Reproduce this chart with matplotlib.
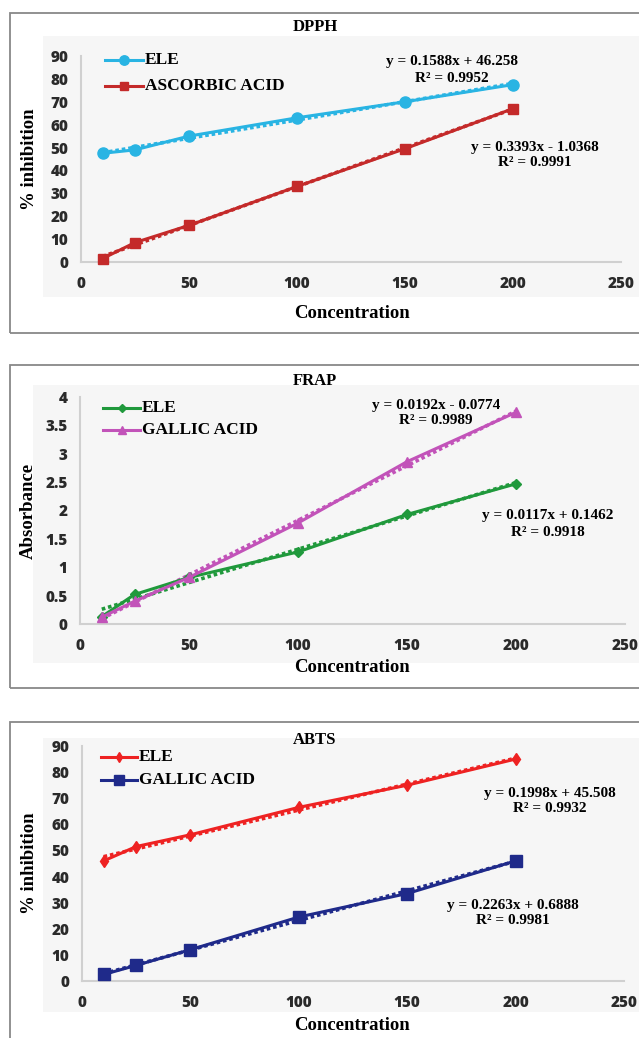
import numpy as np
import matplotlib
matplotlib.use("Agg")
import matplotlib.pyplot as plt
from matplotlib.patches import Rectangle
from matplotlib.lines import Line2D

conc = [10, 25, 50, 100, 150, 200]
x_ticks = [0, 50, 100, 150, 200, 250]

dpph_ele = [47.5, 49.0, 55.0, 63.0, 70.0, 77.5]
dpph_asc = [1.5, 8.5, 16.0, 33.0, 49.5, 67.0]
frap_ele = [0.13, 0.52, 0.82, 1.27, 1.93, 2.47]
frap_gal = [0.12, 0.40, 0.82, 1.78, 2.86, 3.73]
abts_ele = [46.0, 51.5, 56.0, 66.5, 75.0, 85.0]
abts_gal = [2.5, 6.0, 12.0, 24.5, 33.5, 46.0]

W, H = 639, 1038
fig = plt.figure(figsize=(W / 100, H / 100), dpi=100)

SERIF = ["Liberation Serif", "DejaVu Serif"]
SANS = ["Open Sans", "DejaVu Sans"]


def fx(px):
    return px / W


def fy(py):
    return 1 - py / H


def frame(top, bottom, gx, gtop, gbottom):
    fig.patches.append(Rectangle((fx(gx), fy(gbottom)), 1 - fx(gx), fy(gtop) - fy(gbottom),
                                 transform=fig.transFigure, facecolor="#f6f6f6",
                                 edgecolor="none", zorder=-3))
    fig.patches.append(Rectangle((fx(10), fy(bottom)), 1.2, fy(top) - fy(bottom),
                                 transform=fig.transFigure, facecolor="none",
                                 edgecolor="#888888", lw=1.3, zorder=-2))


def panel(l, r, top, bottom, ymax, ystep, title, title_y, ylabel, ylab_x, xlab_y,
          series, legend_pos, eqs):
    ax = fig.add_axes([fx(l), fy(bottom), fx(r) - fx(l), fy(top) - fy(bottom)])
    ax.set_facecolor("none")
    ax.set_xlim(0, 250)
    ax.set_ylim(0, ymax)
    ax.set_xticks(x_ticks)
    yt = np.arange(0, ymax + ystep / 2, ystep)
    ax.set_yticks(yt)
    ax.set_yticklabels([f"{v:g}" for v in yt])
    for s in ["top", "right"]:
        ax.spines[s].set_visible(False)
    for s in ["left", "bottom"]:
        ax.spines[s].set_color("#d0d0d0")
        ax.spines[s].set_linewidth(1.5)
    ax.tick_params(length=0, labelsize=11, colors="#2a2a2a")
    ax.tick_params(axis="x", pad=10)
    ax.tick_params(axis="y", pad=9)
    for lab in ax.get_xticklabels() + ax.get_yticklabels():
        lab.set_family(SANS)
        lab.set_fontweight("heavy")
    for name, ys, color, marker, ms in series:
        c = np.polyfit(conc, ys, 1)
        xs = np.array([conc[0], conc[-1]])
        ax.plot(xs, np.polyval(c, xs), ls=(0, (1, 0.8)), color=color, lw=2.6, zorder=2,
                clip_on=False)
        ax.plot(conc, ys, color=color, marker=marker, ms=ms, lw=2.2, zorder=3, clip_on=False)
    fig.text(fx(315), fy(title_y), title, ha="center", va="center", family=SERIF,
             fontweight="bold", fontsize=12)
    fig.text(fx(ylab_x), fy((top + bottom) / 2), ylabel, ha="center", va="center",
             rotation=90, family=SERIF, fontweight="bold", fontsize=13.5)
    fig.text(fx(352), fy(xlab_y), "Concentration", ha="center", va="center", family=SERIF,
             fontweight="bold", fontsize=13.5)
    (lx0, lx1, ly0, ly1) = legend_pos
    for (name, ys, color, marker, ms), ly in zip(series, [ly0, ly1]):
        fig.add_artist(Line2D([fx(lx0), fx((lx0 + lx1) / 2), fx(lx1)], [fy(ly)] * 3,
                              color=color, lw=2.2, marker=marker, ms=ms * 0.85,
                              markevery=[1], transform=fig.transFigure))
        fig.text(fx(lx1 + 2), fy(ly), name, ha="left", va="center", family=SERIF,
                 fontweight="bold", fontsize=12.5)
    for (txt1, txt2, cx, cy) in eqs:
        fig.text(fx(cx), fy(cy), txt1, ha="center", va="center", family=SERIF,
                 fontweight="bold", fontsize=11)
        fig.text(fx(cx), fy(cy + 16), txt2, ha="center", va="center", family=SERIF,
                 fontweight="bold", fontsize=11)
    return ax


# Panel 1: DPPH
frame(13, 333, 43, 36, 297)
panel(81, 621, 56, 262, 90, 10, "DPPH", 27, "% inhibition", 30, 314,
      [("ELE", dpph_ele, "#29b4e3", "o", 8),
       ("ASCORBIC ACID", dpph_asc, "#c42a2a", "s", 6.5)],
      (105, 143, 60, 86),
      [("y = 0.1588x + 46.258", "R² = 0.9952", 452, 62),
       ("y = 0.3393x - 1.0368", "R² = 0.9991", 535, 147)])

# Panel 2: FRAP
frame(365, 688, 33, 385, 663)
panel(80, 625, 397, 624, 4, 0.5, "FRAP", 381, "Absorbance", 28, 668,
      [("ELE", frap_ele, "#20993c", "D", 5),
       ("GALLIC ACID", frap_gal, "#c253b9", "^", 7)],
      (103, 140, 408, 430),
      [("y = 0.0192x - 0.0774", "R² = 0.9989", 436, 405),
       ("y = 0.0117x + 0.1462", "R² = 0.9918", 548, 516)])

# Panel 3: ABTS
frame(722, 1060, 43, 738, 1012)
panel(82, 624, 746, 981, 90, 10, "ABTS", 740, "% inhibition", 30, 1025,
      [("ELE", abts_ele, "#ee2222", "d", 6),
       ("GALLIC ACID", abts_gal, "#1f2a8a", "s", 8.5)],
      (101, 137, 757, 780),
      [("y = 0.1998x + 45.508", "R² = 0.9932", 550, 793),
       ("y = 0.2263x + 0.6888", "R² = 0.9981", 513, 905)])

fig.savefig("out.png", dpi=100, facecolor="white")
